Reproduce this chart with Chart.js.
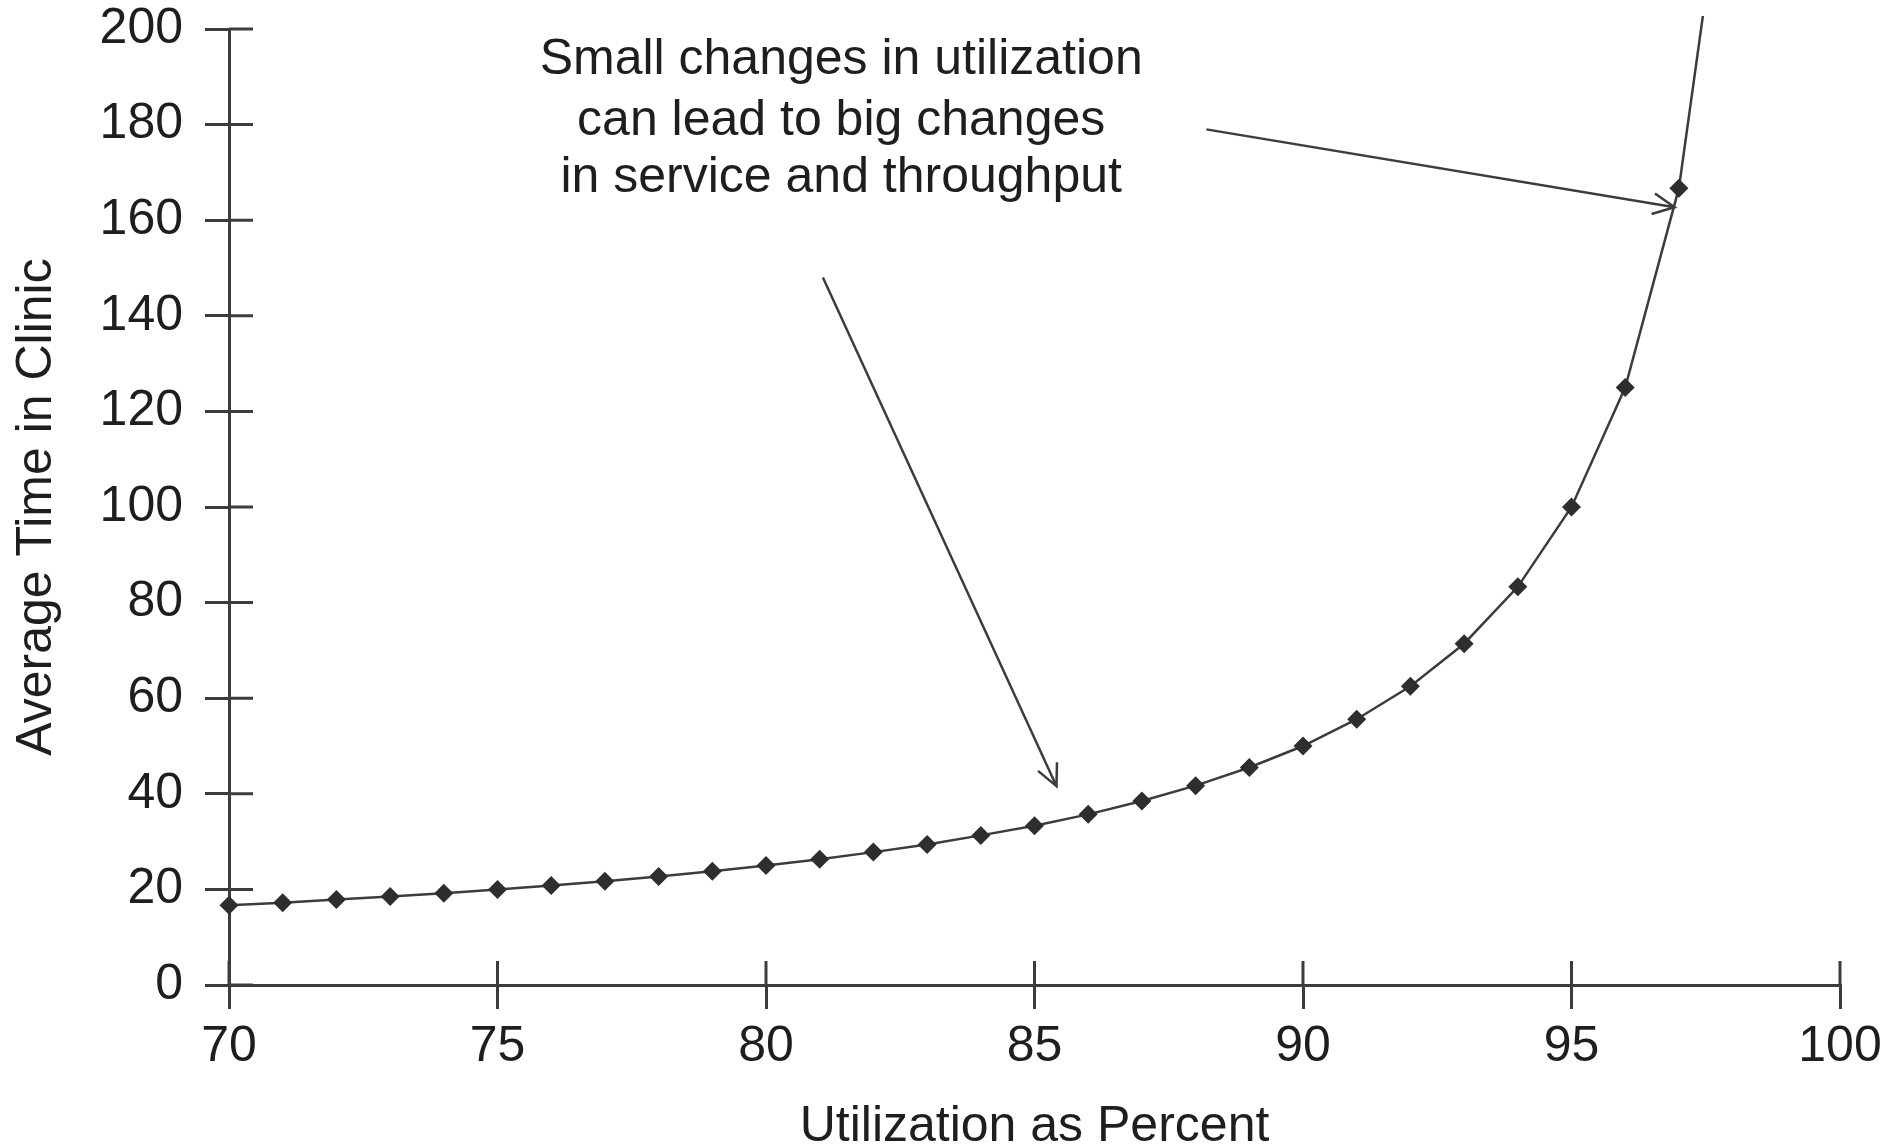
<!DOCTYPE html>
<html lang="en">
<head>
    <meta charset="UTF-8">
    <title>Utilization vs Average Time in Clinic</title>
    <style>
        body { margin: 0; padding: 0; background: #ffffff; }
        #wrap { width: 1890px; height: 1146px; position: relative; }
    </style>
</head>
<body>

<div id="wrap"><canvas id="chart"></canvas></div>

<script src="https://cdn.jsdelivr.net/npm/chart.js"></script>
<script>
// values
const utilization = [70, 71, 72, 73, 74, 75, 76, 77, 78, 79, 80, 81, 82, 83, 84, 85, 86, 87, 88, 89, 90, 91, 92, 93, 94, 95, 96, 97, 97.45];
const avgTime = [16.7, 17.2, 17.9, 18.5, 19.2, 20, 20.8, 21.7, 22.7, 23.8, 25, 26.3, 27.8, 29.4, 31.3, 33.3, 35.7, 38.5, 41.7, 45.5, 50, 55.6, 62.5, 71.4, 83.3, 100, 125, 166.7, 203];
// last point is only where the line leaves the frame, no marker
const markerSize = utilization.map((u, i) => i === utilization.length - 1 ? 0 : 9.5);

const xTicks = [70, 75, 80, 85, 90, 95, 100];
const yTicks = [0, 20, 40, 60, 80, 100, 120, 140, 160, 180, 200];

const noteLines = ['Small changes in utilization', 'can lead to big changes', 'in service and throughput'];
const noteAt = { x: 81.4, y: [193.4, 180.8, 168.7] };
// arrows: [fromX, fromY, toX, toY] in data units
const arrows = [
    [88.2, 179, 96.92, 162.7],
    [81.06, 148, 85.41, 41.6]
];

const ink = '#1e1e1e';
const lineGrey = '#3c3c3c';
const font = "'Liberation Sans', Arial, sans-serif";

// inner half of the tick marks + annotation text and arrows
const extras = {
    id: 'extras',
    afterDraw(chart) {
        const ctx = chart.ctx;
        const xs = chart.scales.x, ys = chart.scales.y;
        const area = chart.chartArea;
        ctx.save();
        ctx.strokeStyle = lineGrey;
        ctx.lineWidth = 3;
        ctx.beginPath();
        xTicks.forEach(v => {
            const px = xs.getPixelForValue(v);
            ctx.moveTo(px, area.bottom);
            ctx.lineTo(px, area.bottom - 24);
        });
        yTicks.forEach(v => {
            const py = ys.getPixelForValue(v);
            ctx.moveTo(area.left, py);
            ctx.lineTo(area.left + 24, py);
        });
        ctx.stroke();

        ctx.fillStyle = ink;
        ctx.font = '50px ' + font;
        ctx.textAlign = 'center';
        ctx.textBaseline = 'middle';
        noteLines.forEach((t, i) => {
            ctx.fillText(t, xs.getPixelForValue(noteAt.x), ys.getPixelForValue(noteAt.y[i]));
        });

        ctx.lineWidth = 2.5;
        arrows.forEach(a => {
            const x1 = xs.getPixelForValue(a[0]), y1 = ys.getPixelForValue(a[1]);
            const x2 = xs.getPixelForValue(a[2]), y2 = ys.getPixelForValue(a[3]);
            const ang = Math.atan2(y2 - y1, x2 - x1);
            const head = 24, spread = 0.45;
            ctx.beginPath();
            ctx.moveTo(x1, y1);
            ctx.lineTo(x2, y2);
            ctx.moveTo(x2 - head * Math.cos(ang - spread), y2 - head * Math.sin(ang - spread));
            ctx.lineTo(x2, y2);
            ctx.lineTo(x2 - head * Math.cos(ang + spread), y2 - head * Math.sin(ang + spread));
            ctx.stroke();
        });
        ctx.restore();
    }
};

new Chart(document.getElementById('chart'), {
    type: 'line',
    data: {
        labels: utilization,
        datasets: [{
            data: utilization.map((u, i) => ({ x: u, y: avgTime[i] })),
            borderColor: lineGrey,
            borderWidth: 2.5,
            backgroundColor: '#2e2e2e',
            pointStyle: 'rectRot',
            pointRadius: markerSize,
            pointBorderWidth: 0,
            tension: 0,
            clip: { left: 10, top: 13, right: 0, bottom: 10 }
        }]
    },
    options: {
        responsive: true,
        maintainAspectRatio: false,
        animation: false,
        layout: { padding: { top: 29, right: 50, left: 0, bottom: 0 } },
        plugins: { legend: { display: false }, tooltip: { enabled: false } },
        scales: {
            x: {
                type: 'linear',
                min: 70,
                max: 100,
                afterBuildTicks: s => { s.ticks = xTicks.map(v => ({ value: v })); },
                afterFit: s => { s.height = 161; s.paddingLeft = 0; s.paddingRight = 0; },
                ticks: { color: ink, font: { family: font, size: 50 }, padding: 8, maxRotation: 0 },
                grid: { drawOnChartArea: false, drawTicks: true, tickLength: 24, color: lineGrey, lineWidth: 3 },
                border: { display: true, color: lineGrey, width: 3 },
                title: {
                    display: true,
                    text: 'Utilization as Percent',
                    color: ink,
                    font: { family: font, size: 50, lineHeight: 1 },
                    padding: { top: 0, bottom: -6 }
                }
            },
            y: {
                min: 0,
                max: 200,
                afterBuildTicks: s => { s.ticks = yTicks.map(v => ({ value: v })); },
                afterFit: s => { s.width = 229; s.paddingTop = 0; s.paddingBottom = 0; },
                ticks: { color: ink, font: { family: font, size: 50 }, padding: 22 },
                grid: { drawOnChartArea: false, drawTicks: true, tickLength: 24, color: lineGrey, lineWidth: 3 },
                border: { display: true, color: lineGrey, width: 3 },
                title: {
                    display: true,
                    text: 'Average Time in Clinic',
                    color: ink,
                    font: { family: font, size: 50, lineHeight: 1 },
                    padding: { top: 12, bottom: 0 }
                }
            }
        }
    },
    plugins: [extras]
});
</script>

</body>
</html>
